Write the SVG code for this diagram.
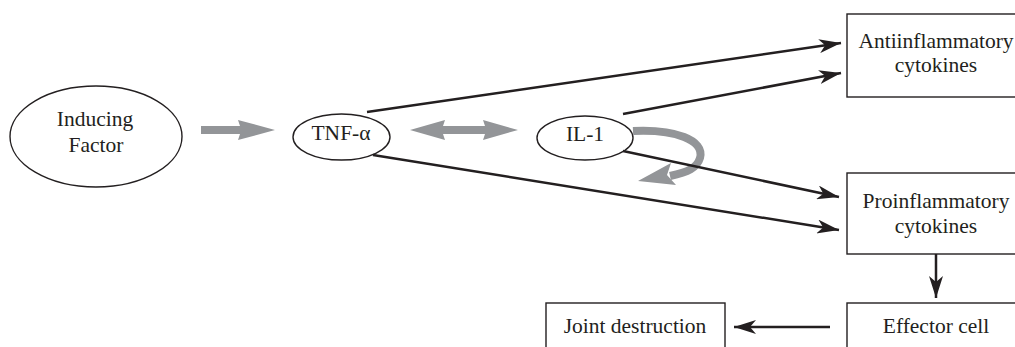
<svg xmlns="http://www.w3.org/2000/svg" width="1015" height="347" viewBox="0 0 1015 347">
<style>
text{font-family:"Liberation Serif","Times New Roman",serif;font-size:21.5px;fill:#231f20;text-anchor:middle}
.shape{fill:#fff;stroke:#231f20;stroke-width:1.4}
.conn{stroke:#231f20;stroke-width:2.5;fill:none}
.gray{fill:#939598;stroke:none}
</style>
<defs>
<marker id="ah" markerUnits="userSpaceOnUse" markerWidth="23" markerHeight="14" refX="22" refY="7" orient="auto">
<path d="M0,0 L22,7 L0,14 L6,7 Z" fill="#231f20"/>
</marker>
</defs>
<g id="inducing"><ellipse class="shape" cx="96" cy="136.5" rx="86" ry="50.5"/><text x="95" y="126">Inducing</text><text x="96" y="152">Factor</text></g>
<g id="tnf"><ellipse class="shape" cx="341.5" cy="137" rx="48.5" ry="23"/><text x="341" y="140">TNF-α</text></g>
<g id="il1"><ellipse class="shape" cx="585" cy="138" rx="48" ry="22"/><text x="585" y="141">IL-1</text></g>
<g id="anti"><rect class="shape" x="847" y="14" width="200" height="83"/><text x="936" y="48">Antiinflammatory</text><text x="936" y="72">cytokines</text></g>
<g id="pro"><rect class="shape" x="847" y="173" width="200" height="81"/><text x="936" y="208">Proinflammatory</text><text x="936" y="233">cytokines</text></g>
<g id="effector"><rect class="shape" x="847" y="303" width="200" height="60"/><text x="936" y="333">Effector cell</text></g>
<g id="joint"><rect class="shape" x="546" y="303" width="179" height="60"/><text x="635" y="333">Joint destruction</text></g>
<g id="connectors">
<polygon class="gray" points="201,126 240,126 238,120 275,130 238,140 240,134 201,134"/>
<polygon class="gray" points="410,130 445,120 443,126 485,126 483,120 518,130 483,140 485,134 443,134 445,140"/>
<path d="M633,131 C675,129 705,140 700,158 C697,168 688,172 670,176" stroke="#939598" stroke-width="8" fill="none"/>
<polygon class="gray" points="638,181 671,163 667,175 676,185"/>
<line class="conn" x1="367" y1="112" x2="841" y2="43" marker-end="url(#ah)"/>
<line class="conn" x1="623" y1="114" x2="841" y2="73" marker-end="url(#ah)"/>
<line class="conn" x1="373" y1="155" x2="839" y2="230" marker-end="url(#ah)"/>
<line class="conn" x1="623" y1="151" x2="839" y2="197" marker-end="url(#ah)"/>
<line class="conn" x1="936" y1="254" x2="936" y2="298" marker-end="url(#ah)"/>
<line class="conn" x1="830" y1="327" x2="734" y2="327" marker-end="url(#ah)"/>
</g>
</svg>
